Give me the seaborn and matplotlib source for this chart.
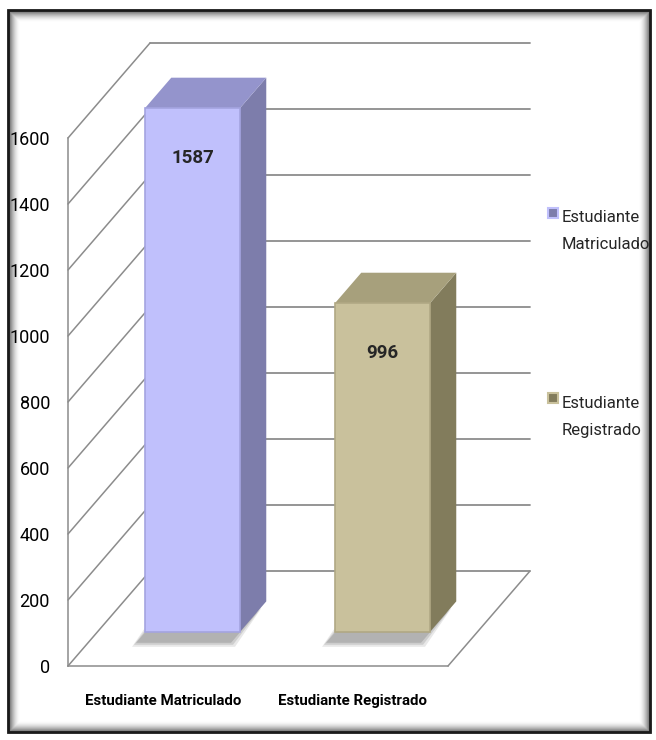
import matplotlib
matplotlib.use('Agg')
import matplotlib.pyplot as plt
import matplotlib.transforms as mtransforms
from matplotlib.patches import Polygon, Rectangle
from matplotlib.lines import Line2D
import seaborn as sns

categories = ['Estudiante Matriculado', 'Estudiante Registrado']
values = [1587, 996]
legend_labels = ['Estudiante\nMatriculado', 'Estudiante\nRegistrado']
yticks = [0, 200, 400, 600, 800, 1000, 1200, 1400, 1600]

front_colors = ['#c0c0fc', '#c9c19c']
edge_colors = ['#a4a4e0', '#b0a884']
side_colors = ['#7d7dab', '#827c5c']
top_colors = ['#9494cc', '#a7a07c']
grid_color = '#8c8c8c'

sns.set_style('white')
plt.rcParams['font.family'] = ['Roboto', 'DejaVu Sans']

W, H = 656, 740
fig = plt.figure(figsize=(W / 100, H / 100), dpi=100)
ax = fig.add_axes([68 / W, 74 / H, 380 / W, 528 / H])

sns.barplot(x=categories, y=values, hue=categories, palette=front_colors,
            width=0.5, saturation=1, legend=False, ax=ax)
ax.set_xlim(-0.5, 1.5)
ax.set_ylim(0, 1600)
ax.set_yticks(yticks)
ax.set_xlabel('')
ax.set_ylabel('')

# depth of the floor in pixels and where the bars sit in it
DX, DY = 82, 95
F0, F1 = 0.36, 0.68
ident = mtransforms.IdentityTransform()


def px(x, y, d):
    X, Y = ax.transData.transform((x, y))
    return X + d * DX, Y + d * DY


def seg(p, q, **kw):
    ax.add_line(Line2D([p[0], q[0]], [p[1], q[1]], transform=ident,
                       clip_on=False, **kw))


# walls and floor
for v in yticks:
    seg(px(-0.5, v, 1), px(1.5, v, 1), color=grid_color, lw=1.3, zorder=1)
    seg(px(-0.5, v, 0), px(-0.5, v, 1), color=grid_color, lw=1.1, zorder=1)
seg(px(1.5, 0, 0), px(1.5, 0, 1), color=grid_color, lw=1.1, zorder=1)

bar_trans = mtransforms.offset_copy(ax.transData, fig=fig, x=F0 * DX, y=F0 * DY, units='dots')

for i, patch in enumerate(ax.patches[:len(values)]):
    x0 = patch.get_x()
    x1 = x0 + patch.get_width()
    v = patch.get_height()
    # soft shadow on the floor
    for k, a in enumerate([0.18, 0.25, 0.35]):
        grow = 4 - k * 2
        pts = [px(x0, 0, F0), px(x1, 0, F0), px(x1, 0, F1), px(x0, 0, F1)]
        pts = [(p[0] - 9 + (-grow if j in (0, 3) else grow),
                p[1] - 11 + (-grow if j in (0, 1) else grow)) for j, p in enumerate(pts)]
        ax.add_patch(Polygon(pts, closed=True, transform=ident, clip_on=False,
                             facecolor='#808080', alpha=a, edgecolor='none', zorder=2))
    side = [px(x1, 0, F0), px(x1, 0, F1), px(x1, v, F1), px(x1, v, F0)]
    top = [px(x0, v, F0), px(x1, v, F0), px(x1, v, F1), px(x0, v, F1)]
    ax.add_patch(Polygon(side, closed=True, transform=ident, clip_on=False,
                         facecolor=side_colors[i], edgecolor='none', zorder=4))
    ax.add_patch(Polygon(top, closed=True, transform=ident, clip_on=False,
                         facecolor=top_colors[i], edgecolor='none', zorder=4))
    patch.set_transform(bar_trans)
    patch.set_clip_on(False)
    patch.set_zorder(5)
    patch.set_edgecolor(edge_colors[i])
    patch.set_linewidth(1.2)
    ax.text(x0 + (x1 - x0) / 2, v - 150, str(values[i]), transform=bar_trans,
            ha='center', va='center', fontsize=13.5, fontweight='bold', zorder=10)

for s in ['top', 'right']:
    ax.spines[s].set_visible(False)
for s in ['left', 'bottom']:
    ax.spines[s].set_color(grid_color)
    ax.spines[s].set_linewidth(1.1)
ax.tick_params(axis='y', length=0, pad=13, labelsize=13, labelcolor='black')
ax.tick_params(axis='x', length=0, pad=20, labelsize=10.8, labelcolor='black')
for t in ax.get_xticklabels():
    t.set_fontweight('bold')

# legend
for i, lab in enumerate(legend_labels):
    y_img = [213, 398][i]
    fig.add_artist(Rectangle((548, H - y_img - 5), 10, 10, transform=ident,
                             facecolor=side_colors[i], edgecolor=front_colors[i], lw=1.5))
    fig.text(562 / W, 1 - ([231, 417][i]) / H, lab, fontsize=12, va='center',
             ha='left', linespacing=2.0)

# frame with an inner shadow
x_l, x_r, y_t, y_b = 8, 650, 10, 732
for k in range(12):
    a = 0.55 * (1 - k / 12) ** 2
    fig.add_artist(Rectangle((x_l + k, H - y_b + k), (x_r - x_l) - 2 * k, (y_b - y_t) - 2 * k,
                             transform=ident, facecolor='none',
                             edgecolor=(0, 0, 0, a), lw=1))
fig.add_artist(Rectangle((x_l, H - y_b), x_r - x_l, y_b - y_t, transform=ident,
                         facecolor='none', edgecolor='#1a1a1a', lw=2))

fig.savefig('out.png', dpi=100)
